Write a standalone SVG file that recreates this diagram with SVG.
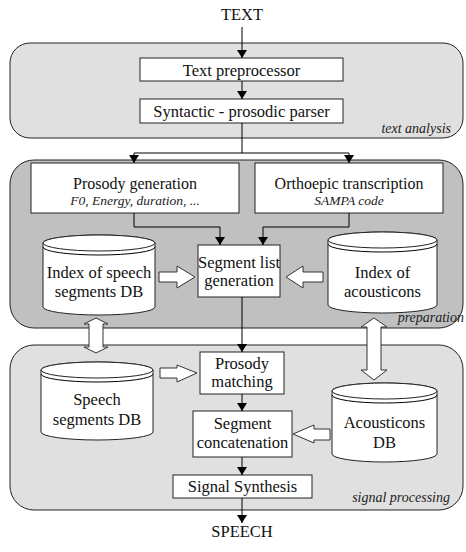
<svg xmlns="http://www.w3.org/2000/svg" width="466" height="552" viewBox="0 0 466 552">
<defs>
<marker id="ah" markerWidth="8" markerHeight="10" refX="8" refY="5" orient="auto" markerUnits="userSpaceOnUse">
<path d="M0,0 L8,5 L0,10 z" fill="#000"/>
</marker>
<style>
.t{font-family:"Liberation Serif","Times New Roman",serif;font-size:16.5px;fill:#111;text-anchor:middle}
.s{font-size:16px}
.i{font-family:"Liberation Serif","Times New Roman",serif;font-size:14px;font-style:italic;fill:#222}
.si{font-size:13.5px}
.r{text-anchor:end}
.c{text-anchor:middle}
.box{fill:#fff;stroke:#222;stroke-width:1}
.cyl{fill:#fff;stroke:#222;stroke-width:1}
.ln{fill:none;stroke:#000;stroke-width:1}
.ba{fill:#fff;stroke:#333;stroke-width:1}
.p1{fill:#e0e0e0;stroke:#222;stroke-width:1}
.p2{fill:#c0c0c0;stroke:#222;stroke-width:1}
</style>
</defs>

<g id="panel-text-analysis">
<rect class="p1" x="10" y="43" width="453" height="95" rx="20" ry="20"/>
<text class="i r" x="451" y="133">text analysis</text>
</g>
<g id="panel-preparation">
<rect class="p2" x="10" y="160" width="453" height="168" rx="24" ry="24"/>
</g>
<g id="panel-signal-processing">
<rect class="p1" x="10" y="345" width="453" height="165" rx="24" ry="24"/>
<text class="i r" x="450" y="502">signal processing</text>
</g>

<g id="lbl-text"><text class="t" x="242" y="20">TEXT</text></g>
<g id="lbl-speech"><text class="t" x="242" y="537">SPEECH</text></g>

<g id="text-preprocessor">
<rect class="box" x="140" y="58" width="203" height="23"/>
<text class="t" x="241.5" y="76">Text preprocessor</text>
</g>
<g id="parser">
<rect class="box" x="140" y="99" width="203" height="24"/>
<text class="t" x="241.5" y="117">Syntactic - prosodic parser</text>
</g>
<g id="prosody-generation">
<rect class="box" x="31" y="163" width="208" height="50"/>
<text class="t s" x="135" y="189">Prosody generation</text>
<text class="i si c" x="135" y="205">F0, Energy, duration, ...</text>
</g>
<g id="orthoepic">
<rect class="box" x="255" y="163" width="188" height="50"/>
<text class="t s" x="349" y="189">Orthoepic transcription</text>
<text class="i si c" x="349" y="205">SAMPA code</text>
</g>
<g id="segment-list">
<rect class="box" x="198" y="245" width="82" height="52"/>
<text class="t" x="239" y="268">Segment list</text>
<text class="t" x="239" y="286">generation</text>
</g>
<g id="index-speech">
<path class="cyl" d="M43,243 L43,307 A56,8 0 0 0 155,307 L155,243 A56,8 0 0 0 43,243 z"/>
<ellipse class="cyl" cx="99" cy="243" rx="56" ry="8"/>
<path class="ln" d="M43,247 A56,8 0 0 0 155,247" stroke="#222"/>
<text class="t" x="99" y="278">Index of speech</text>
<text class="t" x="99" y="297">segments DB</text>
</g>
<g id="index-acousticons">
<path class="cyl" d="M328,240 L328,305 A54.5,8 0 0 0 437,305 L437,240 A54.5,8 0 0 0 328,240 z"/>
<ellipse class="cyl" cx="382.5" cy="240" rx="54.5" ry="8"/>
<path class="ln" d="M328,244 A54.5,8 0 0 0 437,244" stroke="#222"/>
<text class="t" x="382.5" y="278">Index of</text>
<text class="t" x="382.5" y="297">acousticons</text>
</g>
<g id="preparation-label"><text class="i r" x="464" y="322">preparation</text></g>
<g id="prosody-matching">
<rect class="box" x="200" y="352" width="84" height="42"/>
<text class="t" x="242" y="369">Prosody</text>
<text class="t" x="242" y="387">matching</text>
</g>
<g id="segment-concatenation">
<rect class="box" x="193" y="411" width="99" height="46"/>
<text class="t" x="242.5" y="429">Segment</text>
<text class="t" x="242.5" y="448">concatenation</text>
</g>
<g id="signal-synthesis">
<rect class="box" x="173" y="475" width="139" height="23"/>
<text class="t" x="242.5" y="492">Signal Synthesis</text>
</g>
<g id="speech-segments">
<path class="cyl" d="M41,370 L41,432 A56,8 0 0 0 153,432 L153,370 A56,8 0 0 0 41,370 z"/>
<ellipse class="cyl" cx="97" cy="370" rx="56" ry="8"/>
<path class="ln" d="M41,374 A56,8 0 0 0 153,374" stroke="#222"/>
<text class="t" x="97" y="405">Speech</text>
<text class="t" x="97" y="425">segments DB</text>
</g>
<g id="acousticons-db">
<path class="cyl" d="M332,391 L332,454 A52.5,8 0 0 0 437,454 L437,391 A52.5,8 0 0 0 332,391 z"/>
<ellipse class="cyl" cx="384.5" cy="391" rx="52.5" ry="8"/>
<path class="ln" d="M332,395 A52.5,8 0 0 0 437,395" stroke="#222"/>
<text class="t" x="384.5" y="428">Acousticons</text>
<text class="t" x="384.5" y="448">DB</text>
</g>

<g id="connectors">
<path class="ln" d="M242,27 L242,58" marker-end="url(#ah)"/>
<path class="ln" d="M242,81 L242,99" marker-end="url(#ah)"/>
<path class="ln" d="M242,123 L242,153"/>
<path class="ln" d="M134,153 L349,153"/>
<path class="ln" d="M134,153 L134,163" marker-end="url(#ah)"/>
<path class="ln" d="M349,153 L349,163" marker-end="url(#ah)"/>
<path class="ln" d="M134,213 L134,227 L220,227 L220,245" marker-end="url(#ah)"/>
<path class="ln" d="M349,213 L349,227 L263,227 L263,245" marker-end="url(#ah)"/>
<path class="ln" d="M242,297 L242,352" marker-end="url(#ah)"/>
<path class="ln" d="M242,394 L242,411" marker-end="url(#ah)"/>
<path class="ln" d="M242,457 L242,475" marker-end="url(#ah)"/>
<path class="ln" d="M242,498 L242,523" marker-end="url(#ah)"/>
<polygon class="ba" points="159,272 177,272 177,266 195,277 177,288 177,282 159,282"/>
<polygon class="ba" points="323,272 303,272 303,266 286,277 303,288 303,282 323,282"/>
<polygon class="ba" points="160,368 177,368 177,365 197,373 177,382 177,378 160,378"/>
<polygon class="ba" points="330,429 314,429 314,425 293,434 314,443 314,440 330,440"/>
<polygon class="ba" points="96,318 108,324 103,324 103,347 108,347 96,353 84,347 89,347 89,324 84,324"/>
<polygon class="ba" points="374,318 387,327 381,327 381,370 387,370 374,380 361,370 367,370 367,327 361,327"/>
</g>
</svg>
